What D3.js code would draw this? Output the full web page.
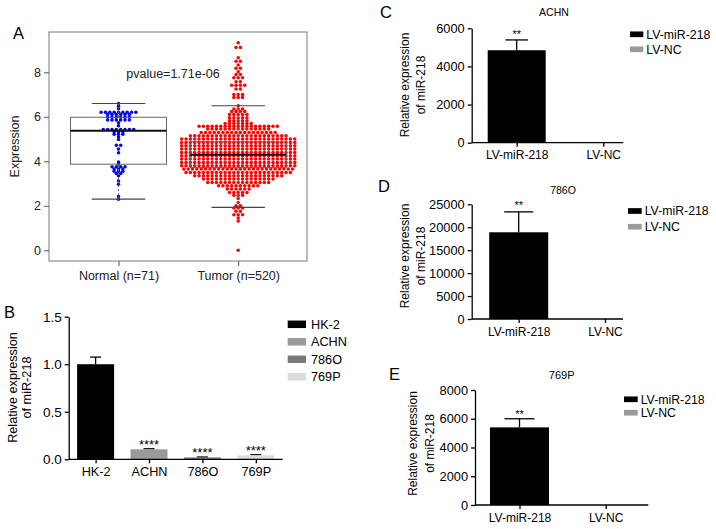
<!DOCTYPE html>
<html><head><meta charset="utf-8">
<script src="https://cdn.jsdelivr.net/npm/d3@7/dist/d3.min.js"></script>
<style>body{margin:0;background:#fff} svg{display:block;font-family:"Liberation Sans",Arial,sans-serif}</style>
</head><body><svg id="c" width="716" height="529"></svg>
<script>
// ---------- Panel A data ----------
const groupsA = ["Normal (n=71)", "Tumor (n=520)"];
const normalLevels = [6.60,6.47,6.36,6.21,6.10,5.98,5.86,5.73,5.60,5.43,5.33,5.22,5.10,4.98,4.72,4.55,4.38,3.97,3.88,3.75,3.65,3.55,3.45,3.35,3.12,2.97,2.42,2.30];
const normalCounts = [1,1,1,9,6,6,6,1,1,8,3,3,1,1,2,1,1,1,1,4,3,3,2,1,1,1,1,1];
const tumorLevels = [9.33,9.12,8.65,8.50,8.33,8.18,8.02,7.90,7.75,7.58,7.42,7.25,7.00,6.87,
  6.50,6.35,6.24,6.10,5.96,5.82,5.70,5.58,5.45,5.30,5.15,5.00,
  4.85,4.70,4.55,4.40,4.25,4.10,3.95,3.80,3.65,3.50,3.35,3.20,3.05,2.90,2.75,2.60,2.47,2.33,
  2.15,2.00,1.90,1.75,1.60,1.45,1.32,0.00];
const tumorCounts = [1,2,1,2,1,2,1,2,3,2,4,2,3,3,
  1,3,4,5,5,5,7,19,15,18,23,27,
  27,27,27,27,27,27,27,27,26,25,21,17,15,10,6,5,3,1,
  1,2,3,2,3,1,1,1];
// [lower whisker, Q1, median, Q3, upper whisker]
const normalBox = [2.30, 3.87, 5.37, 5.98, 6.60];
const tumorBox = [1.93, 3.72, 4.30, 4.88, 6.50];
const yTicksA = [0, 2, 4, 6, 8];
const pvalueText = "pvalue=1.71e-06";

// ---------- Panel B data ----------
const cellLines = ["HK-2", "ACHN", "786O", "769P"];
const cellMeans = [1.00, 0.105, 0.020, 0.042];
const cellErr = [0.075, 0.006, 0.004, 0.006];
const cellStars = ["", "****", "****", "****"];
const cellColors = ["#000000", "#9a9a9a", "#7a7a7a", "#dcdcdc"];
const yTicksB = [0, 0.5, 1.0, 1.5];

// ---------- Panels C-E data ----------
const groupsLV = ["LV-miR-218", "LV-NC"];
const lvColors = ["#000000", "#9a9a9a"];
const achnMeans = [4850, 1];
const achnErr = [540, 0];
const o786Means = [18900, 1];
const o786Err = [4450, 0];
const p769Means = [5400, 1];
const p769Err = [600, 0];
const yTicksC = [0, 2000, 4000, 6000];
const yTicksD = [0, 5000, 10000, 15000, 20000, 25000];
const yTicksE = [0, 2000, 4000, 6000, 8000];

const svg = d3.select("#c");
const FONT = "Liberation Sans, Arial, sans-serif";

function letter(t, x, y) {
  svg.append("text").attr("x", x).attr("y", y).attr("font-size", 16.5).attr("fill", "#000").text(t);
}

// ================= Panel A =================
(function () {
  const g = svg.append("g");
  const y = d3.scaleLinear().domain([0, 8]).range([250.3, 72.3]);
  const x = d3.scalePoint().domain(groupsA).range([118.5, 238.2]);
  const boxW = 96, capW = 53.5, dx = 4.35, r = 1.75;

  g.append("rect").attr("x", 49).attr("y", 32).attr("width", 258).attr("height", 229)
    .attr("fill", "none").attr("stroke", "#7a7a7a").attr("stroke-width", 1);

  const ya = g.append("g").attr("transform", "translate(49,0)")
    .call(d3.axisLeft(y).tickValues(yTicksA).tickSize(5).tickPadding(3).tickFormat(d3.format("d")));
  ya.select(".domain").remove();
  ya.selectAll("line").attr("stroke", "#555");
  ya.selectAll("text").attr("font-size", 12.5).attr("font-family", FONT).attr("fill", "#222");

  const xa = g.append("g").attr("transform", "translate(0,261)")
    .call(d3.axisBottom(x).tickSize(5).tickPadding(5).tickSizeOuter(0));
  xa.select(".domain").remove();
  xa.selectAll("line").attr("stroke", "#555");
  xa.selectAll("text").attr("font-size", 12.5).attr("font-family", FONT).attr("fill", "#222");

  g.append("text").attr("transform", "translate(15,146.5) rotate(-90)").attr("text-anchor", "middle")
    .attr("dy", "0.35em").attr("font-size", 12.5).attr("fill", "#222").text("Expression");

  function swarm(levels, counts, cx, color) {
    const pts = [];
    levels.forEach((v, i) => {
      const n = counts[i];
      for (let k = 0; k < n; k++) pts.push([cx + (k - (n - 1) / 2) * dx, y(v)]);
    });
    g.append("g").selectAll("circle").data(pts).join("circle")
      .attr("cx", d => d[0]).attr("cy", d => d[1]).attr("r", r).attr("fill", color);
  }
  function box(b, cx) {
    const bg = g.append("g");
    bg.append("line").attr("x1", cx).attr("x2", cx).attr("y1", y(b[0])).attr("y2", y(b[1]))
      .attr("stroke", "#666").attr("stroke-dasharray", "2,2");
    bg.append("line").attr("x1", cx).attr("x2", cx).attr("y1", y(b[3])).attr("y2", y(b[4]))
      .attr("stroke", "#666").attr("stroke-dasharray", "2,2");
    [b[0], b[4]].forEach(v => bg.append("line").attr("x1", cx - capW / 2).attr("x2", cx + capW / 2)
      .attr("y1", y(v)).attr("y2", y(v)).attr("stroke", "#444").attr("stroke-width", 1.1));
    bg.append("rect").attr("x", cx - boxW / 2).attr("width", boxW).attr("y", y(b[3]))
      .attr("height", y(b[1]) - y(b[3])).attr("fill", "none").attr("stroke", "#666").attr("stroke-width", 1);
    bg.append("line").attr("x1", cx - boxW / 2).attr("x2", cx + boxW / 2).attr("y1", y(b[2])).attr("y2", y(b[2]))
      .attr("stroke", "#111").attr("stroke-width", 2);
  }
  swarm(normalLevels, normalCounts, x(groupsA[0]), "#0000ff");
  swarm(tumorLevels, tumorCounts, x(groupsA[1]), "#ff0000");
  box(normalBox, x(groupsA[0]));
  box(tumorBox, x(groupsA[1]));

  g.append("text").attr("x", 173).attr("y", 78).attr("text-anchor", "middle").attr("font-size", 12.5)
    .attr("fill", "#222").text(pvalueText);
  letter("A", 13, 39);
})();

// ============ Generic GraphPad-style bar chart ============
function barPanel(o) {
  const g = svg.append("g");
  const y = d3.scaleLinear().domain([0, o.ymax]).range([o.y0, o.y1]);
  const x = d3.scalePoint().domain(o.cats).range(o.xr);
  o.cats.forEach((c, i) => {
    const cx = x(c);
    const top = y(o.means[i] + o.err[i]);
    if (o.err[i] > 0) {
      g.append("line").attr("x1", cx).attr("x2", cx).attr("y1", y(o.means[i])).attr("y2", top)
        .attr("stroke", "#000").attr("stroke-width", 1.3);
      g.append("line").attr("x1", cx - o.cap / 2).attr("x2", cx + o.cap / 2).attr("y1", top).attr("y2", top)
        .attr("stroke", "#000").attr("stroke-width", 1.3);
    }
    g.append("rect").attr("x", cx - o.bw / 2).attr("width", o.bw).attr("y", y(o.means[i]))
      .attr("height", o.y0 - y(o.means[i])).attr("fill", o.colors[i]);
    if (o.stars[i]) {
      g.append("text").attr("x", cx).attr("y", top - o.starOff).attr("text-anchor", "middle")
        .attr("dy", "0.55em").attr("font-size", o.starSize).text(o.stars[i]);
    }
  });
  const ya = g.append("g").attr("transform", `translate(${o.ax},0)`)
    .call(d3.axisLeft(y).tickValues(o.ticks).tickSize(4).tickPadding(3).tickSizeOuter(0).tickFormat(o.fmt));
  ya.selectAll("line,path").attr("stroke", "#000").attr("stroke-width", 1.3);
  ya.selectAll("text").attr("font-size", o.tickSize).attr("font-family", FONT).attr("fill", "#000");
  g.append("line").attr("x1", o.ax).attr("x2", o.axEnd).attr("y1", o.y0).attr("y2", o.y0)
    .attr("stroke", "#000").attr("stroke-width", 1.3);
  const xa = g.append("g").attr("transform", `translate(0,${o.y0})`)
    .call(d3.axisBottom(x).tickSize(4).tickPadding(4).tickSizeOuter(0));
  xa.select(".domain").remove();
  xa.selectAll("line").attr("stroke", "#000").attr("stroke-width", 1.3);
  xa.selectAll("text").attr("font-size", o.catSize).attr("font-family", FONT).attr("fill", "#000");
  // y label: two separate lines (centres at ylx and ylx + ylGap)
  ["Relative expression", "of miR-218"].forEach((t, i) => {
    g.append("text").attr("text-anchor", "middle").attr("font-size", o.ylSize).attr("dy", "0.35em")
      .attr("transform", `translate(${o.ylx + i * o.ylGap},${o.yly}) rotate(-90)`).text(t);
  });
  o.legend.forEach((t, i) => {
    const ly = o.lgy + i * o.lgStep;
    g.append("rect").attr("x", o.lgx).attr("y", ly - o.swH / 2).attr("width", o.swW).attr("height", o.swH)
      .attr("fill", o.colors[i]);
    g.append("text").attr("x", o.lgx + o.swW + o.lgPad).attr("y", ly).attr("dy", "0.35em")
      .attr("font-size", o.lgSize).text(t);
  });
  if (o.title) g.append("text").attr("x", o.tx).attr("y", o.ty).attr("dy", "0.35em").attr("text-anchor", "middle")
    .attr("font-size", o.titleSize).text(o.title);
}

// Panel B
barPanel({
  cats: cellLines, means: cellMeans, err: cellErr, stars: cellStars, colors: cellColors,
  ymax: 1.5, y0: 459.3, y1: 316.7, xr: [95.6, 255.8], bw: 37, cap: 11, ax: 68.7, axEnd: 282.7,
  ticks: yTicksB, fmt: d3.format(".1f"), tickSize: 13.5, catSize: 12.7, starSize: 13, starOff: 7,
  ylx: 12.3, yly: 387.5, ylSize: 12.7, ylGap: 14.5,
  legend: cellLines, lgx: 287.7, lgy: 324.3, lgStep: 17.5, swW: 18.3, swH: 7.5, lgPad: 5, lgSize: 12.7
});
letter("B", 4, 318);

// Panel C
barPanel({
  cats: groupsLV, means: achnMeans, err: achnErr, stars: ["**", ""], colors: lvColors,
  ymax: 6000, y0: 142.7, y1: 28.3, xr: [516.7, 603.3], bw: 58, cap: 22.7, ax: 471.7, axEnd: 623.3,
  ticks: yTicksC, fmt: d3.format("d"), tickSize: 12.8, catSize: 12, starSize: 11, starOff: 7.5,
  ylx: 405, yly: 85, ylSize: 12, ylGap: 16,
  legend: groupsLV, lgx: 630, lgy: 34.3, lgStep: 15, swW: 13.3, swH: 5.7, lgPad: 3, lgSize: 12.3,
  title: "ACHN", tx: 554, ty: 12, titleSize: 10.5
});
letter("C", 380, 18);

// Panel D
barPanel({
  cats: groupsLV, means: o786Means, err: o786Err, stars: ["**", ""], colors: lvColors,
  ymax: 25000, y0: 319, y1: 204.3, xr: [518.7, 605], bw: 59, cap: 29, ax: 471.7, axEnd: 623,
  ticks: yTicksD, fmt: d3.format("d"), tickSize: 12.8, catSize: 12, starSize: 11, starOff: 8.5,
  ylx: 405, yly: 256, ylSize: 12, ylGap: 16,
  legend: groupsLV, lgx: 628, lgy: 211, lgStep: 15.7, swW: 13.7, swH: 5.7, lgPad: 3, lgSize: 12.3,
  title: "786O", tx: 563, ty: 190, titleSize: 10.5
});
letter("D", 378, 192);

// Panel E
barPanel({
  cats: groupsLV, means: p769Means, err: p769Err, stars: ["**", ""], colors: lvColors,
  ymax: 8000, y0: 505, y1: 390, xr: [519.5, 605.7], bw: 59, cap: 30, ax: 475, axEnd: 648.3,
  ticks: yTicksE, fmt: d3.format("d"), tickSize: 12.8, catSize: 12, starSize: 11, starOff: 7,
  ylx: 413, yly: 443.5, ylSize: 12, ylGap: 17,
  legend: groupsLV, lgx: 624, lgy: 399.3, lgStep: 13.4, swW: 13.7, swH: 5.7, lgPad: 3, lgSize: 12.3,
  title: "769P", tx: 561.7, ty: 375, titleSize: 11
});
letter("E", 389, 380);
</script></body></html>
